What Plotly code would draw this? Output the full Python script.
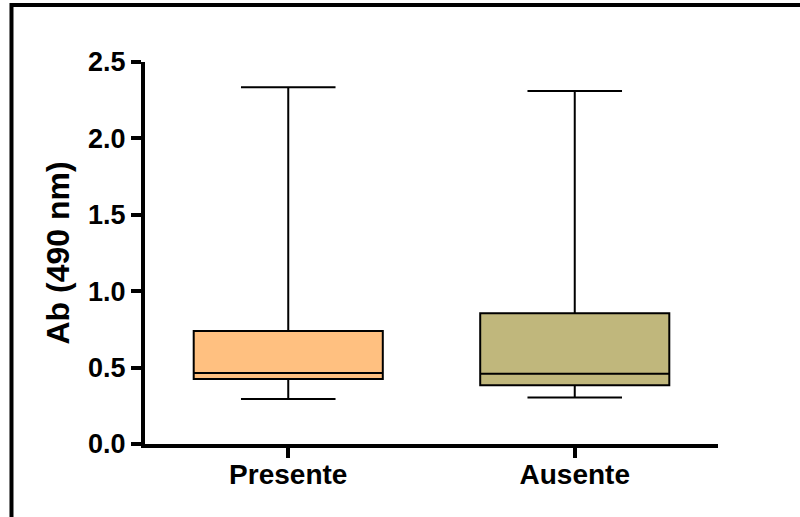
import plotly.graph_objects as go

# Box summary per group (absorbance at 490 nm)
groups = ["Presente", "Ausente"]
q1 = [0.425, 0.385]
median = [0.465, 0.46]
q3 = [0.74, 0.855]
lower = [0.295, 0.305]
upper = [2.335, 2.31]
fills = ["#FFC080", "#C0B77C"]

y_ticks = [0.0, 0.5, 1.0, 1.5, 2.0, 2.5]

FONT = "Liberation Sans, Arial, sans-serif"

fig = go.Figure()
for i, g in enumerate(groups):
    fig.add_trace(go.Box(
        x=[g],
        q1=[q1[i]], median=[median[i]], q3=[q3[i]],
        lowerfence=[lower[i]], upperfence=[upper[i]],
        width=0.66,
        whiskerwidth=0.5,
        fillcolor=fills[i],
        line=dict(color="black", width=2),
        boxpoints=False,
        showlegend=False,
        hoverinfo="skip",
    ))

# outer frame around the figure
fig.add_shape(type="rect", xref="paper", yref="paper",
              x0=-0.233, x1=2.0, y0=-2.0, y1=1.149,
              line=dict(color="black", width=4), fillcolor="rgba(0,0,0,0)",
              layer="above")

fig.update_layout(
    width=800, height=517,
    margin=dict(l=145, r=82, t=62, b=73),
    paper_bgcolor="white", plot_bgcolor="white",
    boxmode="overlay",
    font=dict(family=FONT, color="black"),
    xaxis=dict(
        type="category",
        categoryorder="array", categoryarray=groups,
        range=[-0.5, 1.5],
        showline=True, linecolor="black", linewidth=4,
        ticks="outside", ticklen=10, tickwidth=4, tickcolor="black",
        ticklabelstandoff=-8,
        tickfont=dict(family=FONT, size=28, color="black", weight="bold"),
        showgrid=False, zeroline=False,
    ),
    yaxis=dict(
        range=[0, 2.5],
        tickvals=y_ticks,
        tickformat=".1f",
        showline=True, linecolor="black", linewidth=4,
        ticks="outside", ticklen=10, tickwidth=4, tickcolor="black",
        tickfont=dict(family=FONT, size=27, color="black", weight="bold"),
        title=dict(text="Ab (490 nm)", standoff=10,
                   font=dict(family=FONT, size=32, color="black", weight="bold")),
        showgrid=False, zeroline=False,
    ),
)

fig.write_html("out.html")
